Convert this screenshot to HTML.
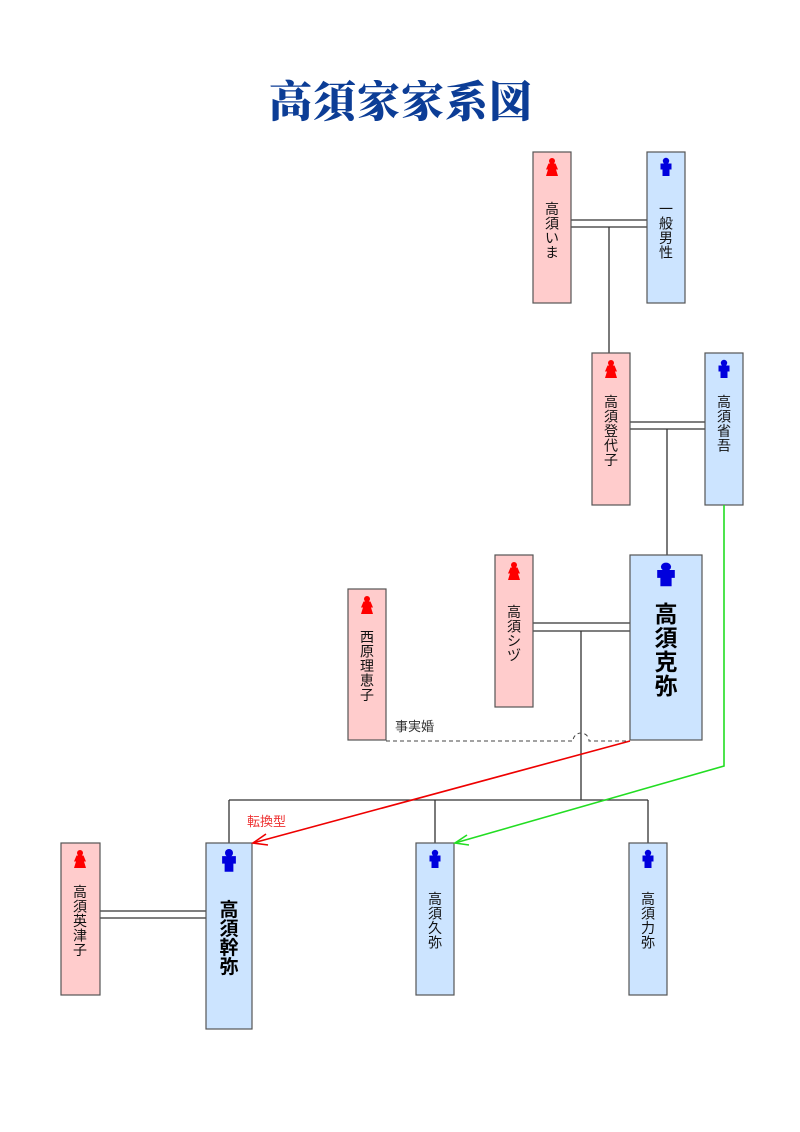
<!DOCTYPE html>
<html><head><meta charset="utf-8"><style>
html,body{margin:0;padding:0;background:#fff;}
svg{display:block}
text{font-family:"Liberation Sans","Noto Sans CJK JP",sans-serif;}
.t{font-size:14px;fill:#111;text-anchor:middle}
.b{font-family:"Liberation Serif","Noto Serif CJK SC",serif;font-weight:bold;fill:#000;text-anchor:middle}
</style></head><body>
<svg width="800" height="1132" viewBox="0 0 800 1132" xmlns="http://www.w3.org/2000/svg">
<defs>
<g id="m"><circle cx="0" cy="-4" r="3.2"/><path d="M-5.5,-1.5 h11 v6 h-2 v6.5 h-7 v-6.5 h-2 z"/></g>
<g id="f"><circle cx="0" cy="-4" r="3"/><path d="M-3.5,-1.5 h7 l2.5,6 h-2 l2,6.5 h-12 l2,-6.5 h-2 z"/></g>
</defs>
<text x="401" y="117" text-anchor="middle" style="font-family:'Liberation Serif','Noto Serif CJK SC',serif;font-weight:900;font-size:43px;fill:#0c3d96;letter-spacing:1px">高須家家系図</text>

<g stroke="#333" stroke-width="1.3" fill="none">
<line x1="571" y1="220" x2="647" y2="220"/><line x1="571" y1="227" x2="647" y2="227"/>
<line x1="609" y1="227" x2="609" y2="353"/>
<line x1="630" y1="422" x2="705" y2="422"/><line x1="630" y1="429" x2="705" y2="429"/>
<line x1="667" y1="429" x2="667" y2="555"/>
<line x1="533" y1="623" x2="630" y2="623"/><line x1="533" y1="631" x2="630" y2="631"/>
<line x1="581" y1="631" x2="581" y2="800"/>
<line x1="229" y1="800" x2="648" y2="800"/>
<line x1="229" y1="800" x2="229" y2="843"/>
<line x1="435" y1="800" x2="435" y2="843"/>
<line x1="648" y1="800" x2="648" y2="843"/>
<line x1="100" y1="911" x2="206" y2="911"/><line x1="100" y1="918" x2="206" y2="918"/>
</g>
<path d="M386,741 H573 A8,8 0 0 1 589,741 H630" stroke="#444" stroke-width="1" fill="none" stroke-dasharray="4,3"/>
<text x="395" y="731" style="font-size:13px;fill:#333">事実婚</text>

<g stroke="#555" stroke-width="1.2">
<rect x="533" y="152" width="38" height="151" fill="#ffcccc"/>
<rect x="647" y="152" width="38" height="151" fill="#cce4ff"/>
<rect x="592" y="353" width="38" height="152" fill="#ffcccc"/>
<rect x="705" y="353" width="38" height="152" fill="#cce4ff"/>
<rect x="495" y="555" width="38" height="152" fill="#ffcccc"/>
<rect x="630" y="555" width="72" height="185" fill="#cce4ff"/>
<rect x="348" y="589" width="38" height="151" fill="#ffcccc"/>
<rect x="61" y="843" width="39" height="152" fill="#ffcccc"/>
<rect x="206" y="843" width="46" height="186" fill="#cce4ff"/>
<rect x="416" y="843" width="38" height="152" fill="#cce4ff"/>
<rect x="629" y="843" width="38" height="152" fill="#cce4ff"/>
</g>

<use href="#f" x="552" y="165" fill="#f00"/>
<use href="#m" x="666" y="165" fill="#00d"/>
<use href="#f" x="611" y="367" fill="#f00"/>
<use href="#m" x="724" y="367" fill="#00d"/>
<use href="#f" x="514" y="569" fill="#f00"/>
<use href="#m" transform="translate(666,572) scale(1.6,1.3)" fill="#00d"/>
<use href="#f" x="367" y="603" fill="#f00"/>
<use href="#f" x="80" y="857" fill="#f00"/>
<use href="#m" transform="translate(229,858) scale(1.25)" fill="#00d"/>
<use href="#m" x="435" y="857" fill="#00d"/>
<use href="#m" x="648" y="857" fill="#00d"/>

<g class="t">
<text x="552" y="214">高</text><text x="552" y="228.5">須</text><text x="552" y="243">い</text><text x="552" y="257.5">ま</text>
<text x="666" y="214">一</text><text x="666" y="228.5">般</text><text x="666" y="243">男</text><text x="666" y="257.5">性</text>
<text x="611" y="407">高</text><text x="611" y="421.5">須</text><text x="611" y="436">登</text><text x="611" y="450.5">代</text><text x="611" y="465">子</text>
<text x="724" y="407">高</text><text x="724" y="421.5">須</text><text x="724" y="436">省</text><text x="724" y="450.5">吾</text>
<text x="514" y="617">高</text><text x="514" y="631.5">須</text><text x="514" y="646">シ</text><text x="514" y="660.5">ヅ</text>
<text x="367" y="642">西</text><text x="367" y="656.5">原</text><text x="367" y="671">理</text><text x="367" y="685.5">恵</text><text x="367" y="700">子</text>
<text x="80" y="897">高</text><text x="80" y="911.5">須</text><text x="80" y="926">英</text><text x="80" y="940.5">津</text><text x="80" y="955">子</text>
<text x="435" y="904">高</text><text x="435" y="918.5">須</text><text x="435" y="933">久</text><text x="435" y="947.5">弥</text>
<text x="648" y="904">高</text><text x="648" y="918.5">須</text><text x="648" y="933">力</text><text x="648" y="947.5">弥</text>
</g>
<g class="b" style="font-size:23px">
<text x="666" y="622">高</text><text x="666" y="646">須</text><text x="666" y="670">克</text><text x="666" y="694">弥</text>
</g>
<g class="b" style="font-size:19px">
<text x="229" y="916">高</text><text x="229" y="935">須</text><text x="229" y="954">幹</text><text x="229" y="973">弥</text>
</g>

<g fill="none" stroke-width="1.6">
<line x1="630" y1="741" x2="253" y2="843" stroke="#e00"/>
<path d="M266,834 L253,843 L268,845" stroke="#e00"/>
<path d="M724,505 V766 L455,843" stroke="#2d2"/>
<path d="M467,835 L455,843 L469,845" stroke="#2d2"/>
</g>
<text x="247" y="826" style="font-size:13px;fill:#e33">転換型</text>
</svg>
</body></html>
